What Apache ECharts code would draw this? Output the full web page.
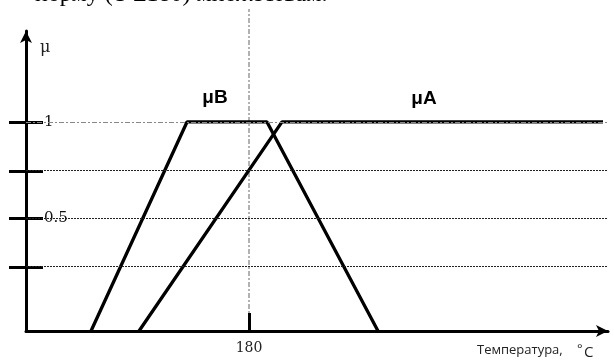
<!DOCTYPE html>
<html>
<head>
<meta charset="utf-8">
<script src="https://cdn.jsdelivr.net/npm/echarts@6/dist/echarts.min.js"></script>
<style>
  html, body { margin: 0; padding: 0; background: #fff; }
  #chart { width: 614px; height: 360px; }
</style>
</head>
<body>
<div id="chart"></div>
<script>
// temperature (deg), membership degree
const muB = [[140.5, 0], [164.5, 1], [184.5, 1], [212.25, 0]]
const muA = [[152.5, 0], [188.25, 1], [268.5, 1]]
const seriesNames = ['μB', 'μA']
const refLine = [[180, 0], [180, 1.54]]
const gridLevels = [1, 0.766, 0.541, 0.306]
const yTickValues = [1, 0.541]
const yTickLabels = ['1', '0.5']
const xTickValues = [180]
const xTickLabels = ['180']
const xRange = [124.25, 269.75]
const yRange = [0, 1.435]

const chart = echarts.init(document.getElementById('chart'))

const serif = '"DejaVu Serif", serif'
const black = '#000'

const arrowLine = {
  show: true,
  symbol: ['none', 'arrow'],
  symbolSize: [9, 12],
  lineStyle: { color: black, width: 3 }
}

const option = {
  animation: false,
  grid: { left: 26, right: 6, top: 31, bottom: 29 },
  xAxis: {
    type: 'value',
    min: xRange[0],
    max: xRange[1],
    z: 3,
    axisLine: arrowLine,
    splitLine: { show: false },
    axisTick: {
      show: true,
      inside: true,
      length: 18,
      customValues: xTickValues,
      lineStyle: { color: black, width: 3 }
    },
    axisLabel: {
      customValues: xTickValues,
      margin: 10,
      color: '#222',
      fontFamily: serif,
      fontSize: 14,
      formatter: (v) => xTickLabels[xTickValues.indexOf(v)]
    }
  },
  yAxis: [
    {
      type: 'value',
      min: yRange[0],
      max: yRange[1],
      z: 3,
      axisLine: arrowLine,
      splitLine: { show: false },
      axisTick: {
        show: true,
        inside: false,
        length: 17,
        customValues: gridLevels,
        lineStyle: { color: black, width: 3 }
      },
      axisLabel: { show: false }
    },
    {
      type: 'value',
      position: 'left',
      min: yRange[0],
      max: yRange[1],
      z: 4,
      axisLine: { show: false },
      splitLine: { show: false },
      axisTick: {
        show: true,
        inside: true,
        length: 17,
        customValues: gridLevels,
        lineStyle: { color: black, width: 3 }
      },
      axisLabel: {
        inside: true,
        customValues: yTickValues,
        margin: 17,
        color: '#111',
        fontFamily: serif,
        fontSize: 15,
        backgroundColor: '#fff',
        padding: [0, 1, 0, 1],
        formatter: (v) => yTickLabels[yTickValues.indexOf(v)]
      }
    }
  ],
  graphic: [
    {
      type: 'text', x: 35, y: -17, silent: true,
      style: { text: 'норму (T ≥180) множествам.', font: '24px "Liberation Serif"', fill: black }
    },
    {
      type: 'text', x: 40, y: 40, silent: true,
      style: { text: 'μ', font: '16px ' + serif, fill: '#222' }
    },
    {
      type: 'text', x: 215, y: 98, silent: true,
      style: { text: seriesNames[0], font: 'bold 19px "Liberation Sans"', fill: black, align: 'center', verticalAlign: 'middle' }
    },
    {
      type: 'text', x: 424, y: 99, silent: true,
      style: { text: seriesNames[1], font: 'bold 19px "Liberation Sans"', fill: black, align: 'center', verticalAlign: 'middle' }
    },
    {
      type: 'text', x: 477, y: 344, silent: true,
      style: { text: 'Температура,', font: '13px "Open Sans"', fill: '#222' }
    },
    {
      type: 'text', x: 577, y: 343, silent: true,
      style: { text: '°', font: '13px "Open Sans"', fill: '#222' }
    },
    {
      type: 'text', x: 584, y: 345, silent: true,
      style: { text: 'C', font: '15px "Open Sans"', fill: '#222' }
    }
  ],
  series: [
    {
      type: 'line',
      data: [],
      z: 1,
      silent: true,
      markLine: {
        silent: true,
        symbol: 'none',
        label: { show: false },
        animation: false,
        data: gridLevels.map((v, i) => ({
          yAxis: v,
          lineStyle: i === 0
            ? { color: '#888', width: 1, type: [5, 2, 2, 2] }
            : { color: '#222', width: 1.2, type: [2, 1] }
        }))
      }
    },
    {
      type: 'line',
      data: refLine,
      z: 1,
      clip: false,
      silent: true,
      symbol: 'none',
      lineStyle: { color: '#999', width: 1.5, type: [5, 2, 2, 2] }
    },
    {
      name: seriesNames[0],
      type: 'line',
      data: muB,
      z: 2,
      symbol: 'none',
      lineStyle: { color: black, width: 3.3 }
    },
    {
      name: seriesNames[1],
      type: 'line',
      data: muA,
      z: 2,
      symbol: 'none',
      lineStyle: { color: black, width: 3.3 }
    }
  ]
}

chart.setOption(option)
</script>
</body>
</html>
